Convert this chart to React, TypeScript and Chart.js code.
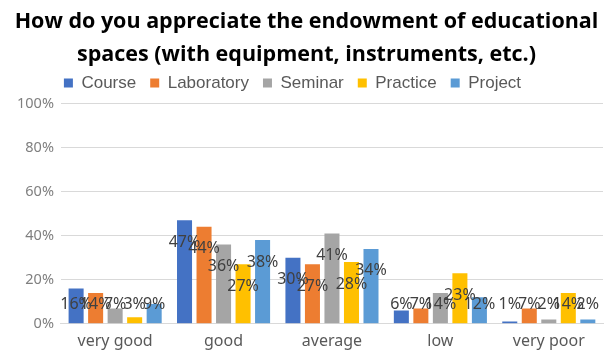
import React, { useEffect, useRef } from "react";
import { Chart, registerables } from "chart.js";

Chart.register(...registerables);

const categories = ["very good", "good", "average", "low", "very poor"];
const seriesNames = ["Course", "Laboratory", "Seminar", "Practice", "Project"];
const course = [16, 47, 30, 6, 1];
const laboratory = [14, 44, 27, 7, 7];
const seminar = [7, 36, 41, 14, 2];
const practice = [3, 27, 28, 23, 14];
const project = [9, 38, 34, 12, 2];
const yTicks = [0, 20, 40, 60, 80, 100];
const colors = ["#4472C4", "#ED7D31", "#A5A5A5", "#FFC000", "#5B9BD5"];

const titleLines = [
  "How do you appreciate the endowment of educational",
  "spaces (with equipment, instruments, etc.)",
];

// Value labels sit inside the bar end, but never lower than a floor near the axis.
const valueLabels = {
  id: "valueLabels",
  afterDatasetsDraw(chart: any) {
    const { ctx } = chart;
    const y = chart.scales.y;
    ctx.save();
    ctx.font = "16px 'Noto Sans'";
    ctx.fillStyle = "#404040";
    ctx.textAlign = "center";
    ctx.textBaseline = "middle";
    chart.data.datasets.forEach((ds: any, i: number) => {
      const meta = chart.getDatasetMeta(i);
      meta.data.forEach((el: any, j: number) => {
        const v = ds.data[j] as number;
        const py = y.getPixelForValue(Math.max(v - 10, 9));
        ctx.fillText(v + "%", el.x, py);
      });
    });
    ctx.restore();
  },
};

// Nudge the legend row a little up and to the left of centre.
const legendShift = {
  id: "legendShift",
  afterUpdate(chart: any) {
    const lg = chart.legend;
    if (!lg) return;
    lg.left -= 14;
    lg.right -= 14;
    lg.top -= 2;
    lg.bottom -= 2;
  },
};

export default function App() {
  const ref = useRef<HTMLCanvasElement | null>(null);

  useEffect(() => {
    document.body.style.margin = "0";
    const series = [course, laboratory, seminar, practice, project];
    const chart = new Chart(ref.current as HTMLCanvasElement, {
      type: "bar",
      data: {
        labels: categories,
        datasets: series.map((d, i) => ({
          label: seriesNames[i],
          data: d,
          backgroundColor: colors[i],
          categoryPercentage: 0.9,
          barPercentage: 0.77,
        })),
      },
      options: {
        animation: false,
        responsive: false,
        layout: { padding: { left: 10, right: 7, top: 6, bottom: 1 } },
        plugins: {
          title: {
            display: true,
            text: titleLines,
            color: "#000000",
            font: { family: "'Open Sans'", size: 21.5, weight: "bold", lineHeight: 1.5 },
            padding: { top: 0, bottom: -8 },
          },
          legend: {
            display: true,
            labels: {
              boxWidth: 9,
              boxHeight: 9,
              color: "#595959",
              font: { family: "'Liberation Sans'", size: 17 },
              padding: 14,
            },
          },
          tooltip: { enabled: false },
        },
        scales: {
          x: {
            grid: { display: false },
            border: { display: true, color: "#d9d9d9" },
            ticks: {
              color: "#595959",
              font: { family: "'Noto Sans'", size: 16 },
              padding: 0,
            },
          },
          y: {
            min: 0,
            max: 100,
            afterBuildTicks(axis: any) {
              axis.ticks = yTicks.map((v) => ({ value: v }));
            },
            grid: { color: "#d9d9d9", drawTicks: false },
            border: { display: false },
            ticks: {
              color: "#7f7f7f",
              font: { family: "'Noto Sans'", size: 14.5 },
              padding: 7,
              callback: (v: any) => v + "%",
            },
          },
        },
      },
      plugins: [valueLabels, legendShift],
    });
    return () => chart.destroy();
  }, []);

  return (
    <div style={{ position: "fixed", left: 0, top: 0, width: 610, height: 352 }}>
      <canvas ref={ref} width={610} height={352} />
    </div>
  );
}
